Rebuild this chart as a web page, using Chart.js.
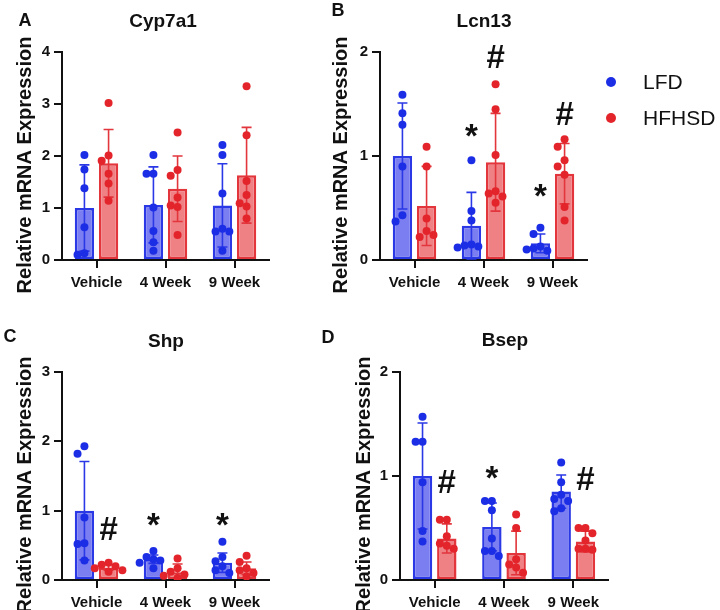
<!DOCTYPE html>
<html>
<head>
<meta charset="utf-8">
<script src="https://cdn.jsdelivr.net/npm/chart.js@4.4.1/dist/chart.umd.min.js"></script>
<style>
  body { margin: 0; background: #fff; }
  #wrap { position: relative; width: 720px; height: 610px; background: #fff; font-family: "Liberation Sans", Arial, sans-serif; color: #111; }
  canvas { position: absolute; }
  .lbl { position: absolute; transform: translate(-50%, -50%); line-height: 1; white-space: nowrap; font-weight: bold; }
  .title { font-size: 19px; }
  .letter { font-size: 18px; }
  .leg { position: absolute; display: flex; align-items: center; font-size: 21px; transform: translateY(-50%); }
  .leg span.dot { width: 10px; height: 10px; border-radius: 50%; margin-right: 27px; }
</style>
</head>
<body>
<div id="wrap"></div>
<script>
const categories = ['Vehicle', '4 Week', '9 Week'];
const groups = ['LFD', 'HFHSD'];
const yTitle = 'Relative mRNA Expression';

// panel titles / letters / axis max
const panelTitles = ['Cyp7a1', 'Lcn13', 'Shp', 'Bsep'];
const panelLetters = ['A', 'B', 'C', 'D'];
const yMaxes = [4, 2, 3, 2];

// means and SD per panel (LFD / HFHSD)
const lfdMean = [[1.0, 1.06, 1.05], [1.0, 0.33, 0.16], [1.0, 0.30, 0.25], [1.0, 0.51, 0.85]];
const lfdSD   = [[0.83, 0.73, 0.80], [0.51, 0.32, 0.09], [0.71, 0.06, 0.14], [0.51, 0.23, 0.16]];
const hfMean  = [[1.86, 1.37, 1.63], [0.52, 0.94, 0.83], [0.18, 0.11, 0.17], [0.40, 0.26, 0.37]];
const hfSD    = [[0.65, 0.63, 0.92], [0.38, 0.47, 0.29], [0.04, 0.12, 0.09], [0.14, 0.21, 0.10]];

// individual animals
const lfdPts = [
  [[2.02, 1.74, 1.38, 0.63, 0.13, 0.10], [2.02, 1.66, 1.66, 1.01, 0.56, 0.34, 0.18], [2.21, 2.02, 1.28, 0.60, 0.55, 0.55, 0.18]],
  [[1.59, 1.41, 1.30, 0.90, 0.43, 0.37], [0.96, 0.47, 0.38, 0.15, 0.14, 0.13, 0.12], [0.31, 0.25, 0.13, 0.11, 0.09, 0.10]],
  [[1.93, 1.82, 0.90, 0.53, 0.52, 0.28], [0.42, 0.33, 0.30, 0.28, 0.25, 0.17], [0.55, 0.33, 0.27, 0.20, 0.14, 0.10]],
  [[1.57, 1.33, 1.33, 0.94, 0.47, 0.37], [0.76, 0.76, 0.67, 0.40, 0.28, 0.28, 0.23], [1.13, 0.94, 0.82, 0.78, 0.76, 0.69, 0.66]]
];
const hfPts = [
  [[3.02, 2.01, 1.91, 1.66, 1.47, 1.14], [2.45, 1.73, 1.62, 1.20, 1.05, 1.02, 0.48], [3.34, 2.40, 1.52, 1.25, 1.09, 1.03, 0.80]],
  [[1.09, 0.90, 0.40, 0.28, 0.22, 0.24], [1.69, 1.45, 1.01, 0.66, 0.64, 0.61, 0.55], [1.16, 1.09, 0.96, 0.90, 0.82, 0.51, 0.38]],
  [[0.25, 0.22, 0.20, 0.17, 0.14, 0.12], [0.31, 0.17, 0.12, 0.08, 0.06, 0.03], [0.35, 0.26, 0.17, 0.14, 0.10, 0.05]],
  [[0.58, 0.58, 0.42, 0.35, 0.33, 0.30], [0.63, 0.50, 0.20, 0.15, 0.12, 0.07], [0.50, 0.50, 0.45, 0.38, 0.30, 0.30, 0.29]]
];

// significance marks: [panel, category, group(0 LFD / 1 HFHSD), symbol, value height]
const sigMarks = [
  [1, 1, 0, '*', 1.25], [1, 1, 1, '#', 1.96], [1, 2, 0, '*', 0.67], [1, 2, 1, '#', 1.41],
  [2, 0, 1, '#', 0.75], [2, 1, 0, '*', 0.87], [2, 2, 0, '*', 0.87],
  [3, 0, 1, '#', 0.95], [3, 1, 0, '*', 1.03], [3, 2, 1, '#', 0.98]
];

const FONT = '"Liberation Sans", Arial, sans-serif';
const BLUE = '#1c2de6', BLUE_FILL = '#7a7ef0', BLUE_LINE = '#2b38e6';
const RED = '#e3242b', RED_FILL = '#ef8084', RED_LINE = '#e2353c';
const SIDE = 0.175; // group offset within a category, in category units

// layout of the four panels
const panels = [
  { left: 0,   top: 0,   w: 300, h: 300, yW: 62, pad: { top: 52, right: 31, bottom: 10 }, tx: 163, ty: 20, lx: 25, ly: 20 },
  { left: 316, top: 0,   w: 300, h: 300, yW: 64, pad: { top: 52, right: 29, bottom: 10 }, tx: 484, ty: 20, lx: 338, ly: 10 },
  { left: 0,   top: 320, w: 300, h: 290, yW: 62, pad: { top: 52, right: 31, bottom: 0 },  tx: 166, ty: 340, lx: 10, ly: 336 },
  { left: 339, top: 320, w: 300, h: 290, yW: 61, pad: { top: 52, right: 31, bottom: 0 },  tx: 505, ty: 339, lx: 328, ly: 337 }
];

// spread overlapping dots sideways, like the scatter-dot-plot
function spread(vals, cat, side, yMax) {
  const out = [];
  vals.forEach(v => {
    const near = out.filter(p => Math.abs(p.v - v) < yMax * 0.04).map(p => p.slot);
    const slot = [0, -1, 1, -2, 2, -3, 3].find(s => !near.includes(s));
    out.push({ v, slot });
  });
  return out.map(p => ({ x: cat + side * SIDE + p.slot * 0.1, y: p.v }));
}

const errorBars = {
  id: 'errorBars',
  afterDatasetDraw(chart, args) {
    const ds = chart.data.datasets[args.index];
    if (!ds.sd) return;
    const ctx = chart.ctx, y = chart.scales.y;
    ctx.save();
    ctx.strokeStyle = ds.borderColor;
    ctx.lineWidth = 1.6;
    args.meta.data.forEach((bar, i) => {
      const m = ds.data[i].y, s = ds.sd[i];
      const y1 = y.getPixelForValue(m + s), y0 = y.getPixelForValue(Math.max(m - s, 0));
      ctx.beginPath();
      ctx.moveTo(bar.x, y0); ctx.lineTo(bar.x, y1);
      ctx.moveTo(bar.x - 5, y1); ctx.lineTo(bar.x + 5, y1);
      if (m - s > 0) { ctx.moveTo(bar.x - 5, y0); ctx.lineTo(bar.x + 5, y0); }
      ctx.stroke();
    });
    ctx.restore();
  }
};

const sigPlugin = {
  id: 'sig',
  afterDraw(chart, args, opts) {
    const ctx = chart.ctx;
    ctx.save();
    ctx.fillStyle = '#111';
    ctx.textAlign = 'center';
    ctx.textBaseline = 'alphabetic';
    ctx.font = 'bold 33px ' + FONT;
    sigMarks.filter(s => s[0] === opts.panel).forEach(([p, c, g, sym, v]) => {
      const m = ctx.measureText(sym);
      const xc = chart.scales.x.getPixelForValue(c + (g ? SIDE : -SIDE));
      const yc = chart.scales.y.getPixelForValue(v);
      ctx.fillText(sym, xc, yc + (m.actualBoundingBoxAscent - m.actualBoundingBoxDescent) / 2);
    });
    // y-axis title, a little below the plot centre as in the figure
    const a = chart.chartArea;
    ctx.translate(25, (a.top + a.bottom) / 2 + 9);
    ctx.rotate(-Math.PI / 2);
    ctx.font = 'bold 20px ' + FONT;
    ctx.textBaseline = 'middle';
    ctx.fillText(yTitle, 0, 0);
    ctx.restore();
  }
};

const wrap = document.getElementById('wrap');

panels.forEach((P, k) => {
  const cv = document.createElement('canvas');
  cv.width = P.w; cv.height = P.h;
  cv.style.left = P.left + 'px'; cv.style.top = P.top + 'px';
  wrap.appendChild(cv);

  const t = document.createElement('div');
  t.className = 'lbl title'; t.textContent = panelTitles[k];
  t.style.left = P.tx + 'px'; t.style.top = P.ty + 'px';
  wrap.appendChild(t);
  const l = document.createElement('div');
  l.className = 'lbl letter'; l.textContent = panelLetters[k];
  l.style.left = P.lx + 'px'; l.style.top = P.ly + 'px';
  wrap.appendChild(l);

  const yMax = yMaxes[k];
  const lfdBars = lfdMean[k].map((m, c) => ({ x: c - SIDE, y: m }));
  const hfBars = hfMean[k].map((m, c) => ({ x: c + SIDE, y: m }));
  const lfdDots = lfdPts[k].flatMap((vals, c) => spread(vals, c, -1, yMax));
  const hfDots = hfPts[k].flatMap((vals, c) => spread(vals, c, 1, yMax));
  const barCommon = { type: 'bar', grouped: false, borderWidth: 2.5, borderSkipped: false, barPercentage: 1, maxBarThickness: 20, order: 2 };
  const dotCommon = { pointRadius: 4, pointHoverRadius: 4, borderWidth: 0, order: 1 };

  new Chart(cv, {
    type: 'scatter',
    data: {
      datasets: [
        Object.assign({ label: groups[0], data: lfdBars, sd: lfdSD[k], backgroundColor: BLUE_FILL, borderColor: BLUE_LINE }, barCommon),
        Object.assign({ label: groups[1], data: hfBars, sd: hfSD[k], backgroundColor: RED_FILL, borderColor: RED_LINE }, barCommon),
        Object.assign({ label: groups[0] + ' pts', data: lfdDots, backgroundColor: BLUE, pointBackgroundColor: BLUE }, dotCommon),
        Object.assign({ label: groups[1] + ' pts', data: hfDots, backgroundColor: RED, pointBackgroundColor: RED }, dotCommon)
      ]
    },
    options: {
      responsive: false,
      animation: false,
      layout: { padding: { left: 0, top: P.pad.top, right: P.pad.right, bottom: P.pad.bottom } },
      plugins: { legend: { display: false }, tooltip: { enabled: false }, sig: { panel: k } },
      scales: {
        x: {
          type: 'linear', min: -0.5, max: 2.5, offset: false,
          afterBuildTicks: s => { s.ticks = categories.map((c, i) => ({ value: i })); },
          grid: { offset: false, drawOnChartArea: false, color: '#111', lineWidth: 2, tickLength: 8 },
          border: { color: '#111', width: 2 },
          ticks: { color: '#111', padding: 6, maxRotation: 0, font: { family: FONT, size: 15, weight: 'bold' },
                   callback: v => categories[v] },
          afterFit: s => { s.height = 30; }
        },
        y: {
          type: 'linear', min: 0, max: yMax,
          grid: { drawOnChartArea: false, color: '#111', lineWidth: 2, tickLength: 8 },
          border: { color: '#111', width: 2 },
          ticks: { stepSize: 1, color: '#111', padding: 4, font: { family: FONT, size: 15, weight: 'bold' } },
          afterFit: s => { s.width = P.yW; }
        }
      }
    },
    plugins: [errorBars, sigPlugin]
  });
});

// legend
[[groups[0], BLUE, 82], [groups[1], RED, 118]].forEach(([name, col, y]) => {
  const d = document.createElement('div');
  d.className = 'leg';
  d.style.left = '606px'; d.style.top = y + 'px';
  d.innerHTML = '<span class="dot" style="background:' + col + '"></span>' + name;
  wrap.appendChild(d);
});
</script>
</body>
</html>
